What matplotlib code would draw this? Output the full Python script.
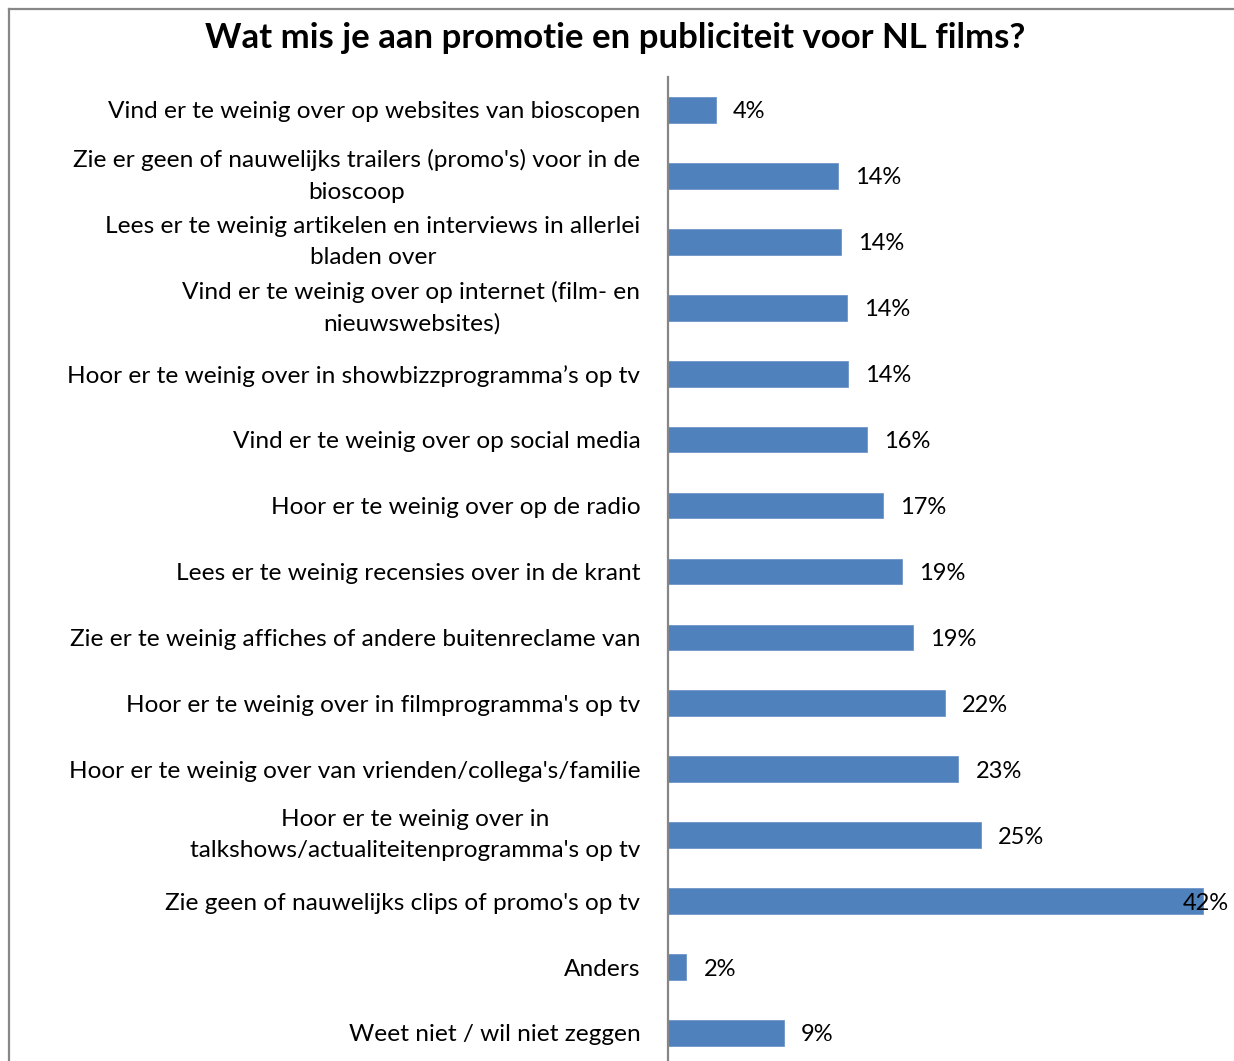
import matplotlib.pyplot as plt
from matplotlib.lines import Line2D

plt.rcParams['font.family'] = ['Lato', 'DejaVu Sans']

categories = [
    "Vind er te weinig over op websites van bioscopen",
    "Zie er geen of nauwelijks trailers (promo's) voor in de\nbioscoop",
    "Lees er te weinig artikelen en interviews in allerlei\nbladen over",
    "Vind er te weinig over op internet (film- en\nnieuwswebsites)",
    "Hoor er te weinig over in showbizzprogramma\u2019s op tv",
    "Vind er te weinig over op social media",
    "Hoor er te weinig over op de radio",
    "Lees er te weinig recensies over in de krant",
    "Zie er te weinig affiches of andere buitenreclame van",
    "Hoor er te weinig over in filmprogramma's op tv",
    "Hoor er te weinig over van vrienden/collega's/familie",
    "Hoor er te weinig over in\ntalkshows/actualiteitenprogramma's op tv",
    "Zie geen of nauwelijks clips of promo's op tv",
    "Anders",
    "Weet niet / wil niet zeggen",
]
values = [3.8, 13.5, 13.7, 14.2, 14.3, 15.8, 17.0, 18.5, 19.4, 21.9, 23.0, 24.8, 42.3, 1.5, 9.2]
value_labels = ["4%", "14%", "14%", "14%", "14%", "16%", "17%", "19%", "19%",
                "22%", "23%", "25%", "42%", "2%", "9%"]

W, H = 1234, 1061
fig = plt.figure(figsize=(W / 100, H / 100), dpi=100)

# plot area: x from 667.5 px to right edge, y bands from 77 px down
ax_left, ax_top, band = 667.5, 77, 65.93
ax_bottom = ax_top + band * len(categories)
ax = fig.add_axes([ax_left / W, 1 - ax_bottom / H, (W - ax_left) / W, (ax_bottom - ax_top) / H])

px_per_pct = 12.65
xmax = (W - ax_left) / px_per_pct
y = list(range(len(categories)))
ax.barh(y, values, height=0.39, color='#4F81BD', edgecolor='#6E96C8', linewidth=0.6)
ax.set_xlim(0, xmax)
ax.set_ylim(len(categories) - 0.5, -0.5)

ax.set_xticks([])
ax.set_yticks(y)
ax.set_yticklabels(categories, fontsize=17.6, multialignment='center', linespacing=1.6)
for lbl in ax.get_yticklabels():
    if '\n' in lbl.get_text():
        lbl.set_va('center')
ax.tick_params(axis='y', length=0, pad=19.5)
for s in ['top', 'right', 'bottom']:
    ax.spines[s].set_visible(False)
ax.spines['left'].set_color('#868686')
ax.spines['left'].set_linewidth(1.6)
ax.patch.set_alpha(0)

# value labels, kept inside the chart area
offset = 17 / px_per_pct
for yi, v, lab in zip(y, values, value_labels):
    if v + offset + 3.8 > xmax:
        ax.text(xmax - 0.4, yi, lab, ha='right', va='center_baseline', fontsize=17)
    else:
        ax.text(v + offset, yi, lab, ha='left', va='center_baseline', fontsize=17)

fig.text(615 / W, 1 - 38 / H, "Wat mis je aan promotie en publiciteit voor NL films?",
         ha='center', va='center', fontsize=25, fontweight='bold')

# chart border (left and top visible)
fig.add_artist(Line2D([8.5 / W, 8.5 / W], [-0.01, 1 - 8.5 / H], transform=fig.transFigure,
                      color='#878787', linewidth=1.6))
fig.add_artist(Line2D([8.5 / W, 1.01], [1 - 8.5 / H, 1 - 8.5 / H], transform=fig.transFigure,
                      color='#878787', linewidth=1.6))

fig.savefig('out.png', dpi=100)
